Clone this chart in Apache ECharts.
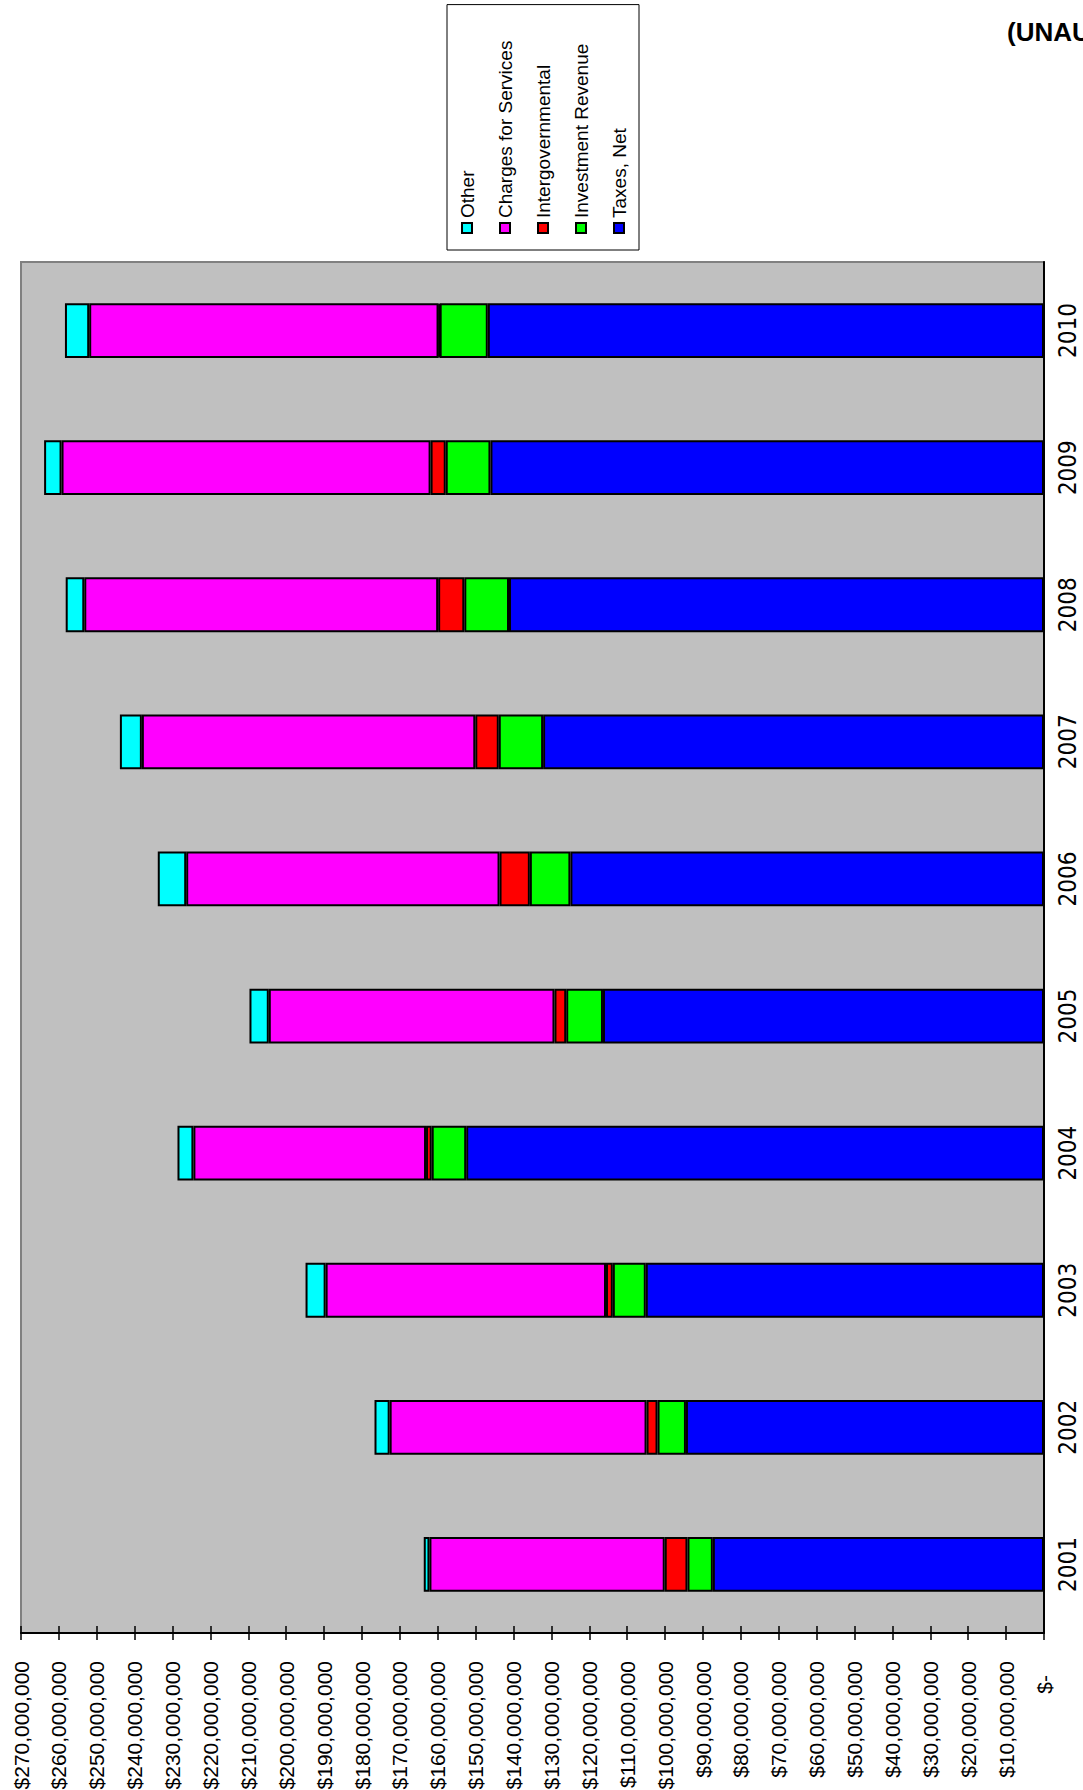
<!DOCTYPE html>
<html>
<head>
<meta charset="utf-8">
<script src="https://cdn.jsdelivr.net/npm/echarts@6/dist/echarts.min.js"></script>
<style>
html, body { margin: 0; padding: 0; width: 1083px; height: 1790px; overflow: hidden; background: #fff; }
/* the chart is laid out as a normal column chart, then turned a quarter left */
#revenue { position: absolute; left: 0; top: 0; width: 1790px; height: 1083px;
  transform-origin: 0 0; transform: translate(0, 1790px) rotate(-90deg); }
</style>
</head>
<body>
<div id="revenue"></div>
<script>
var years = ['2001', '2002', '2003', '2004', '2005', '2006', '2007', '2008', '2009', '2010'];

// dollars
var taxes      = [87400000, 94500000, 105100000, 152500000, 116400000, 125000000, 132200000, 141200000, 146100000, 146800000];
var investment = [6700000, 7500000, 8700000, 9100000, 9700000, 10700000, 11700000, 11800000, 11800000, 12700000];
var intergov   = [6000000, 2900000, 1800000, 1500000, 3100000, 8000000, 6200000, 6900000, 4000000, 300000];
var charges    = [62100000, 67800000, 74000000, 61400000, 75400000, 82700000, 88000000, 93400000, 97400000, 92200000];
var other      = [1500000, 4000000, 5300000, 4200000, 5100000, 7500000, 5800000, 4900000, 4600000, 6400000];

var legendNames = ['Other', 'Charges for Services', 'Intergovernmental', 'Investment Revenue', 'Taxes, Net'];
var axisMax = 270000000;
var axisStep = 10000000;

function money(v) {
    if (v === 0) return '{zero|$-}';
    return '$' + String(v).replace(/\B(?=(\d{3})+(?!\d))/g, ',');
}

function layer(name, data, color) {
    return {
        name: name,
        type: 'bar',
        stack: 'rev',
        data: data,
        barCategoryGap: '60%',
        itemStyle: { color: color, borderColor: '#000', borderWidth: 2 },
        emphasis: { disabled: true }
    };
}

var labelFont = 'Liberation Sans';

var myChart = echarts.init(document.getElementById('revenue'), null, { renderer: 'svg' });

option = {
    animation: false,
    backgroundColor: '#fff',
    grid: {
        left: 157,
        right: 262,
        top: 21,
        bottom: 39,
        show: true,
        backgroundColor: '#c0c0c0',
        borderColor: '#808080',
        borderWidth: 2,
        outerBoundsMode: 'none'
    },
    legend: {
        orient: 'vertical',
        left: 1540,
        top: 447,
        data: legendNames,
        padding: [10, 36, 10, 16],
        itemWidth: 10,
        itemHeight: 10,
        itemGap: 18,
        icon: 'rect',
        itemStyle: { borderColor: '#000', borderWidth: 2 },
        backgroundColor: '#fff',
        borderColor: '#000',
        borderWidth: 1,
        selectedMode: false,
        textStyle: { fontFamily: labelFont, fontSize: 19, lineHeight: 20, color: '#000' }
    },
    xAxis: [
        {
            type: 'category',
            data: years,
            position: 'bottom',
            axisLine: { lineStyle: { color: '#000', width: 2 } },
            axisTick: { length: 7, lineStyle: { color: '#000', width: 1.5 } },
            axisLabel: {
                margin: 12,
                fontFamily: "'Liberation Sans Narrow', 'DejaVu Sans Condensed', 'Liberation Sans'",
                fontSize: 24,
                color: '#000'
            }
        },
        {
            type: 'category',
            data: years,
            position: 'bottom',
            axisLine: { show: false },
            axisTick: { inside: true, length: 7, lineStyle: { color: '#000', width: 1.5 } },
            axisLabel: { show: false }
        }
    ],
    yAxis: [
        {
            type: 'value',
            min: 0,
            max: axisMax,
            interval: axisStep,
            position: 'left',
            splitLine: { show: false },
            axisLine: { show: true, lineStyle: { color: '#000', width: 2 } },
            axisTick: { show: true, length: 7, lineStyle: { color: '#000', width: 1.5 } },
            axisLabel: {
                margin: 28,
                formatter: money,
                fontFamily: labelFont,
                fontSize: 21,
                color: '#000',
                rich: {
                    zero: { fontFamily: labelFont, fontSize: 21, color: '#000', padding: [0, 14, 0, 0] }
                }
            }
        },
        {
            type: 'value',
            min: 0,
            max: axisMax,
            interval: axisStep,
            position: 'left',
            splitLine: { show: false },
            axisLine: { show: false },
            axisTick: { show: true, inside: true, length: 7, lineStyle: { color: '#000', width: 1.5 } },
            axisLabel: { show: false }
        }
    ],
    graphic: [
        {
            type: 'text',
            x: 1758,
            y: 1007,
            rotation: -Math.PI / 2,
            style: {
                text: '(UNAUDITED)',
                fontFamily: labelFont,
                fontWeight: 'bold',
                fontSize: 26,
                fill: '#000',
                align: 'left',
                verticalAlign: 'middle',
                textAlign: 'left',
                textVerticalAlign: 'middle'
            }
        }
    ],
    series: [
        layer('Taxes, Net', taxes, '#0000ff'),
        layer('Investment Revenue', investment, '#00ff00'),
        layer('Intergovernmental', intergov, '#ff0000'),
        layer('Charges for Services', charges, '#ff00ff'),
        layer('Other', other, '#00ffff')
    ]
};

myChart.setOption(option);
</script>
</body>
</html>
